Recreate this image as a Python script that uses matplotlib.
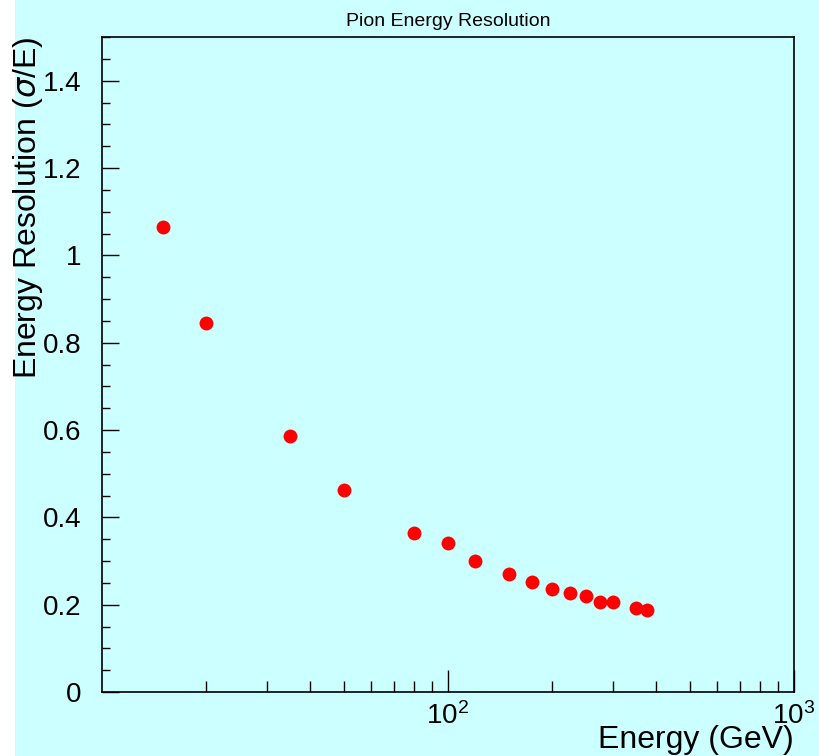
"""Pion energy resolution vs beam energy (ROOT-style canvas)."""
import matplotlib
matplotlib.use("Agg")
import matplotlib.pyplot as plt
from matplotlib.patches import Rectangle
from matplotlib.ticker import FixedLocator, FixedFormatter, MultipleLocator, NullFormatter

# beam energies (GeV) and measured sigma/E
energy = [15, 20, 35, 50, 80, 100, 120, 150, 175, 200, 225, 250, 275, 300, 350, 375]
resolution = [1.064, 0.844, 0.586, 0.462, 0.364, 0.341, 0.300, 0.270,
              0.253, 0.237, 0.226, 0.219, 0.207, 0.205, 0.192, 0.187]

x_major = [100, 1000]
x_major_labels = [r"$\mathdefault{10^{2}}$", r"$\mathdefault{10^{3}}$"]
x_minor = [20, 30, 40, 50, 60, 70, 80, 90, 200, 300, 400, 500, 600, 700, 800, 900]

BG = "#ccffff"
plt.rcParams["font.family"] = ["Liberation Sans", "DejaVu Sans"]

fig = plt.figure(figsize=(8.2, 7.56), dpi=100)
fig.patch.set_facecolor("white")
# canvas fill leaves a thin white strip on the left, like the original
fig.patches.append(Rectangle((15 / 820, 0), 1 - 15 / 820, 1, transform=fig.transFigure,
                             facecolor=BG, edgecolor="none", zorder=-10))

ax = fig.add_axes([102 / 820, 1 - 692 / 756, (794 - 102) / 820, (692 - 37) / 756])
ax.set_facecolor(BG)
ax.plot(energy, resolution, "o", color="#ff0000", markersize=10, markeredgewidth=0)

ax.set_xscale("log")
ax.set_xlim(10, 1000)
ax.set_ylim(0, 1.5)

ax.xaxis.set_major_locator(FixedLocator(x_major))
ax.xaxis.set_major_formatter(FixedFormatter(x_major_labels))
ax.xaxis.set_minor_locator(FixedLocator(x_minor))
ax.xaxis.set_minor_formatter(NullFormatter())
ax.yaxis.set_major_locator(MultipleLocator(0.2))
ax.yaxis.set_minor_locator(MultipleLocator(0.05))
ax.yaxis.set_major_formatter(plt.FuncFormatter(lambda v, p: "0" if v == 0 else ("1" if abs(v - 1) < 1e-9 else f"{v:.1f}")))

ax.tick_params(axis="both", which="both", direction="in", top=False, right=False, labelsize=20, color="black")
ax.tick_params(axis="x", which="major", length=16, width=1, pad=7)
ax.tick_params(axis="x", which="minor", length=8, width=1)
ax.tick_params(axis="y", which="major", length=12, width=1, pad=15)
ax.tick_params(axis="y", which="minor", length=6, width=1)
for s in ax.spines.values():
    s.set_linewidth(1.2)
    s.set_color("black")

ax.set_title("Pion Energy Resolution", fontsize=14, pad=8)
ax.set_xlabel("Energy (GeV)", fontsize=23, loc="right", labelpad=-3)
ax.set_ylabel(r"Energy Resolution ($\sigma$/E)", fontsize=23, loc="top", labelpad=-2)

fig.savefig("out.png", dpi=100, facecolor=fig.get_facecolor())
